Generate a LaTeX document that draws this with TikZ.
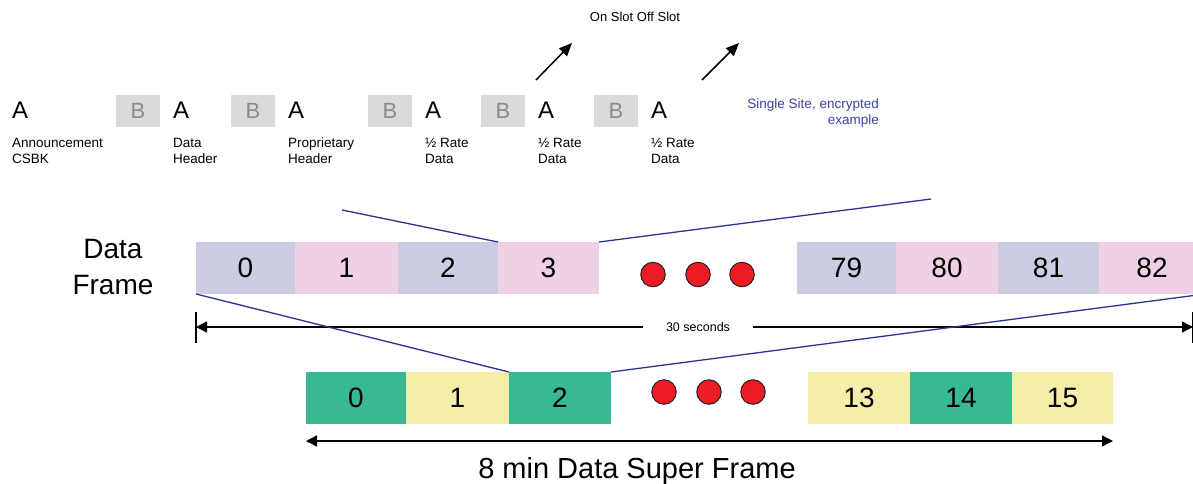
\documentclass[tikz,border=0pt]{standalone}
\usepackage{fontspec}
\setmainfont{Liberation Sans}
\usetikzlibrary{arrows.meta}
\definecolor{fblue}{HTML}{CCCCE3}
\definecolor{fpink}{HTML}{F0D0E4}
\definecolor{sgreen}{HTML}{38B994}
\definecolor{syellow}{HTML}{F5EEAA}
\definecolor{bgray}{HTML}{D9DADB}
\definecolor{btext}{HTML}{8C8C8C}
\definecolor{navy}{HTML}{2E3192}
\definecolor{sitetext}{HTML}{3F3FA2}
\definecolor{dotred}{HTML}{EC1C24}
\definecolor{dotrim}{HTML}{231F20}
\begin{document}
\begin{tikzpicture}[x=1pt,y=-1pt,
  slot/.style={inner sep=0pt, outer sep=0pt, minimum height=52pt, font=\fontsize{28}{30}\selectfont},
  bbox/.style={fill=bgray, text=btext, inner sep=0pt, outer sep=0pt, minimum width=44pt, minimum height=32pt, font=\fontsize{22}{24}\selectfont},
  atext/.style={anchor=base west, inner sep=0pt, font=\fontsize{24}{26}\selectfont},
  lbl/.style={anchor=base west, inner sep=0pt, font=\fontsize{13.5}{16}\selectfont},
  sitelbl/.style={anchor=base east, inner sep=0pt, text=sitetext, font=\fontsize{13.5}{16}\selectfont},
  bigtext/.style={anchor=base, inner sep=0pt, font=\fontsize{28}{30}\selectfont},
  reddot/.style={circle, fill=dotred, draw=dotrim, line width=1pt, minimum size=24.5pt, inner sep=0pt},
  zoomline/.style={navy, line width=1.3pt},
  dimarrow/.style={line width=1.3pt, {Triangle[length=11pt,width=11pt]}-{Triangle[length=11pt,width=11pt]}},
  slotarrow/.style={line width=1.5pt, -{Triangle[length=13pt,width=11pt]}}
]
\useasboundingbox (0,0) rectangle (1193,483);

% ---- top row: A/B slots
\node[atext] (a1) at (12,118) {A};
\node[bbox] (b1) at (138,111) {B};
\node[atext] (a2) at (173,118) {A};
\node[bbox] (b2) at (253,111) {B};
\node[atext] (a3) at (288,118) {A};
\node[bbox] (b3) at (390,111) {B};
\node[atext] (a4) at (425,118) {A};
\node[bbox] (b4) at (503,111) {B};
\node[atext] (a5) at (538,118) {A};
\node[bbox] (b5) at (616,111) {B};
\node[atext] (a6) at (651,118) {A};

\node[lbl] (l1a) at (12,147) {Announcement};
\node[lbl] (l1b) at (12,163) {CSBK};
\node[lbl] (l2a) at (173,147) {Data};
\node[lbl] (l2b) at (173,163) {Header};
\node[lbl] (l3a) at (288,147) {Proprietary};
\node[lbl] (l3b) at (288,163) {Header};
\node[lbl] (l4a) at (425,147) {½ Rate};
\node[lbl] (l4b) at (425,163) {Data};
\node[lbl] (l5a) at (538,147) {½ Rate};
\node[lbl] (l5b) at (538,163) {Data};
\node[lbl] (l6a) at (651,147) {½ Rate};
\node[lbl] (l6b) at (651,163) {Data};

\node[sitelbl] (site1) at (879,108) {Single Site, encrypted};
\node[sitelbl] (site2) at (879,124) {example};

\node[anchor=base, inner sep=0pt, font=\fontsize{13}{15}\selectfont] (onoff) at (635,21) {On Slot Off Slot};

\coordinate (ar1s) at (536,80);
\coordinate (ar1e) at (572,43);
\coordinate (ar2s) at (702,80);
\coordinate (ar2e) at (739,43);
\draw[slotarrow] (ar1s) -- (ar1e);
\draw[slotarrow] (ar2s) -- (ar2e);

% ---- data frame
\node[bigtext] (df1) at (113,258) {Data};
\node[bigtext] (df2) at (113,294) {Frame};

\node[slot, fill=fblue, minimum width=99pt]  (f0)  at (245.5,268) {0};
\node[slot, fill=fpink, minimum width=103pt] (f1)  at (346.5,268) {1};
\node[slot, fill=fblue, minimum width=100pt] (f2)  at (448,268) {2};
\node[slot, fill=fpink, minimum width=101pt] (f3)  at (548.5,268) {3};
\node[slot, fill=fblue, minimum width=99pt]  (f79) at (846.5,268) {79};
\node[slot, fill=fpink, minimum width=102pt] (f80) at (947,268) {80};
\node[slot, fill=fblue, minimum width=101pt] (f81) at (1048.5,268) {81};
\node[slot, fill=fpink, minimum width=106pt] (f82) at (1152,268) {82};

\node[reddot] (fd1) at (653,274.5) {};
\node[reddot] (fd2) at (698,274.5) {};
\node[reddot] (fd3) at (742,274.5) {};

% ---- 30 seconds dimension
\coordinate (t30l) at (196,327);
\coordinate (t30r) at (1193,327);
\draw[line width=1.3pt] (196,312) -- (196,343);
\draw[line width=1.3pt] (1192.5,312) -- (1192.5,343);
\draw[dimarrow] (t30l) -- (t30r);
\node[fill=white, inner xsep=23pt, inner ysep=2pt, font=\fontsize{12.5}{14}\selectfont] (t30) at (698,327) {30 seconds};

% ---- super frame
\node[slot, fill=sgreen,  minimum width=100pt] (s0)  at (356,398) {0};
\node[slot, fill=syellow, minimum width=103pt] (s1)  at (457.5,398) {1};
\node[slot, fill=sgreen,  minimum width=102pt] (s2)  at (560,398) {2};
\node[slot, fill=syellow, minimum width=102pt] (s13) at (859,398) {13};
\node[slot, fill=sgreen,  minimum width=102pt] (s14) at (961,398) {14};
\node[slot, fill=syellow, minimum width=101pt] (s15) at (1062.5,398) {15};

\node[reddot] (sd1) at (664,392) {};
\node[reddot] (sd2) at (709,392) {};
\node[reddot] (sd3) at (753,392) {};

\draw[dimarrow, line width=1.5pt] (s0.south west |- 0,441) coordinate (sfl) -- (s15.south east |- 0,441) coordinate (sfr);
\node[anchor=base, inner sep=0pt, font=\fontsize{29}{31}\selectfont] (sftext) at (637,478) {8 min Data Super Frame};

% ---- zoom lines
\coordinate (zl1) at (342,210);
\coordinate (zl2) at (931,199);
\draw[zoomline] (zl1) -- (f3.north west);
\draw[zoomline] (f3.north east) -- (zl2);
\draw[zoomline] (f0.south west) -- (s2.north west);
\draw[zoomline] (f82.south east) -- (s2.north east);
\end{tikzpicture}
\end{document}
